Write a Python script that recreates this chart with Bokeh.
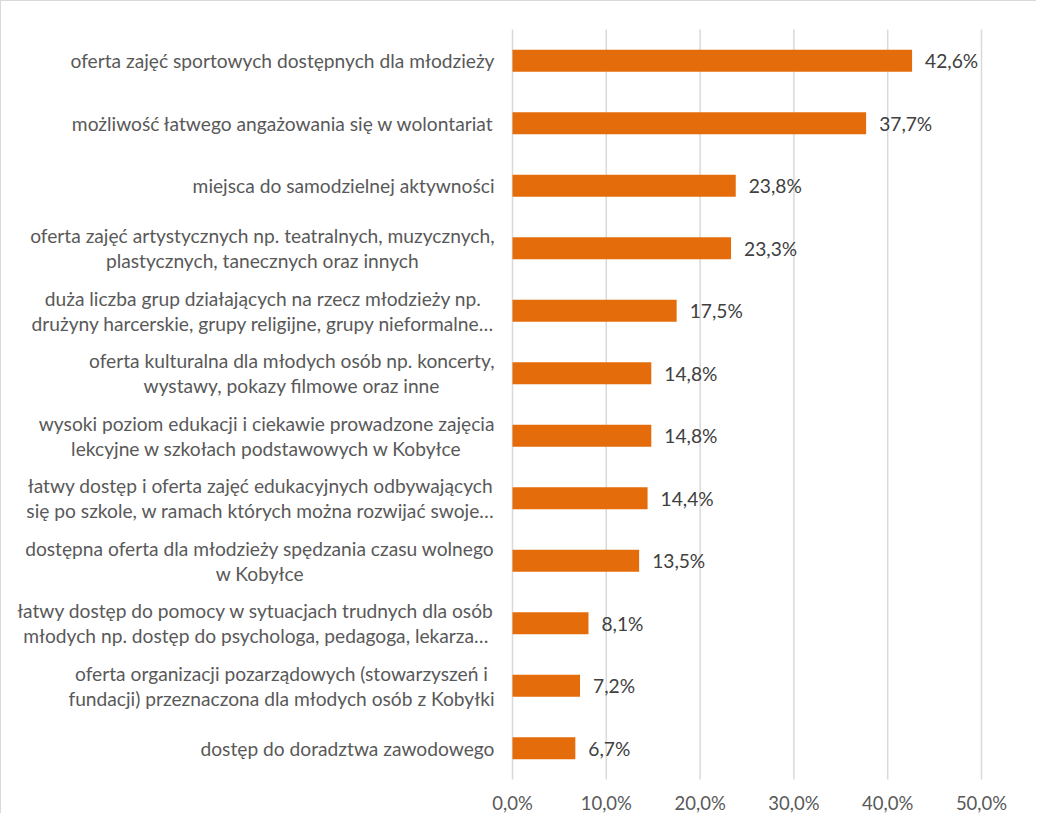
from bokeh.plotting import figure
from bokeh.models import Range1d, ColumnDataSource
from bokeh.core.properties import value
from bokeh.embed import file_html
from bokeh.resources import INLINE

categories = [
    "oferta zajęć sportowych dostępnych dla młodzieży",
    "możliwość łatwego angażowania się w wolontariat",
    "miejsca do samodzielnej aktywności",
    "oferta zajęć artystycznych np. teatralnych, muzycznych,\nplastycznych, tanecznych oraz innych",
    "duża liczba grup działających na rzecz młodzieży np.\ndrużyny harcerskie, grupy religijne, grupy nieformalne…",
    "oferta kulturalna dla młodych osób np. koncerty,\nwystawy, pokazy filmowe oraz inne",
    "wysoki poziom edukacji i ciekawie prowadzone zajęcia\nlekcyjne w szkołach podstawowych w Kobyłce",
    "łatwy dostęp i oferta zajęć edukacyjnych odbywających\nsię po szkole, w ramach których można rozwijać swoje…",
    "dostępna oferta dla młodzieży spędzania czasu wolnego\nw Kobyłce",
    "łatwy dostęp do pomocy w sytuacjach trudnych dla osób\nmłodych np. dostęp do psychologa, pedagoga, lekarza…",
    "oferta organizacji pozarządowych (stowarzyszeń i\nfundacji) przeznaczona dla młodych osób z Kobyłki",
    "dostęp do doradztwa zawodowego",
]
values = [42.6, 37.7, 23.8, 23.3, 17.5, 14.8, 14.8, 14.4, 13.5, 8.1, 7.2, 6.7]
x_ticks = [0, 10, 20, 30, 40, 50]
x_tick_labels = ["0,0%", "10,0%", "20,0%", "30,0%", "40,0%", "50,0%"]

n = len(categories)
value_labels = [f"{v:.1f}%".replace(".", ",") for v in values]

# ---- layout (pixels) ----
W, H = 1036, 813
PX_PER_UNIT = 9.38      # px per 1 percentage point
ZERO_X = 511            # canvas px of x = 0
ROW_PX = 62.5           # px per category band
BAND_TOP = 28           # canvas px of the top of the first band

x_start = -ZERO_X / PX_PER_UNIT
x_end = x_start + W / PX_PER_UNIT
y_top = -0.5 - BAND_TOP / ROW_PX
y_bottom = y_top + H / ROW_PX

FONT = "Lato"
FS = "19.2px"

src = ColumnDataSource(dict(idx=list(range(n)), cat=categories, val=values,
                            vlabel=value_labels, zero=[0] * n))
grid_src = ColumnDataSource(dict(x=x_ticks, lab=x_tick_labels,
                                 y0=[-0.5] * len(x_ticks), y1=[n - 0.5] * len(x_ticks)))

p = figure(
    width=W, height=H,
    output_backend="svg", toolbar_location=None,
    x_range=Range1d(x_start, x_end),
    y_range=Range1d(y_bottom, y_top),   # flipped: first category on top
    x_axis_location=None, y_axis_location=None,
    min_border=0,
)
p.styles = {"border-top": "1px solid #D9D9D9", "border-left": "1px solid #D9D9D9"}
p.outline_line_color = None
p.xgrid.visible = False
p.ygrid.visible = False
p.background_fill_color = "white"
p.border_fill_color = "white"

# vertical gridlines at the tick values, spanning the category bands
p.segment(x0="x", x1="x", y0="y0", y1="y1", source=grid_src,
          line_color="#D9D9D9", line_width=1.5)

# x tick labels
p.text(x="x", y="y1", text="lab", source=grid_src, y_offset=23,
       text_align="center", text_baseline="middle",
       text_font=value(FONT), text_font_size="18.5px", text_color="#595959")

# bars
p.hbar(y="idx", left="zero", right="val", height=0.35, source=src,
       fill_color="#E46C0A", line_color=None)

# category labels
p.text(x="zero", y="idx", text="cat", source=src, x_offset=-18,
       anchor=value("center_right"), text_align="center", text_baseline="middle",
       text_font=value(FONT), text_font_size=FS, text_color="#595959",
       text_line_height=1.1)

# value labels
p.text(x="val", y="idx", text="vlabel", source=src, x_offset=13,
       text_align="left", text_baseline="middle",
       text_font=value(FONT), text_font_size=FS, text_color="#404040")

open("out.html", "w").write(file_html(p, INLINE))
